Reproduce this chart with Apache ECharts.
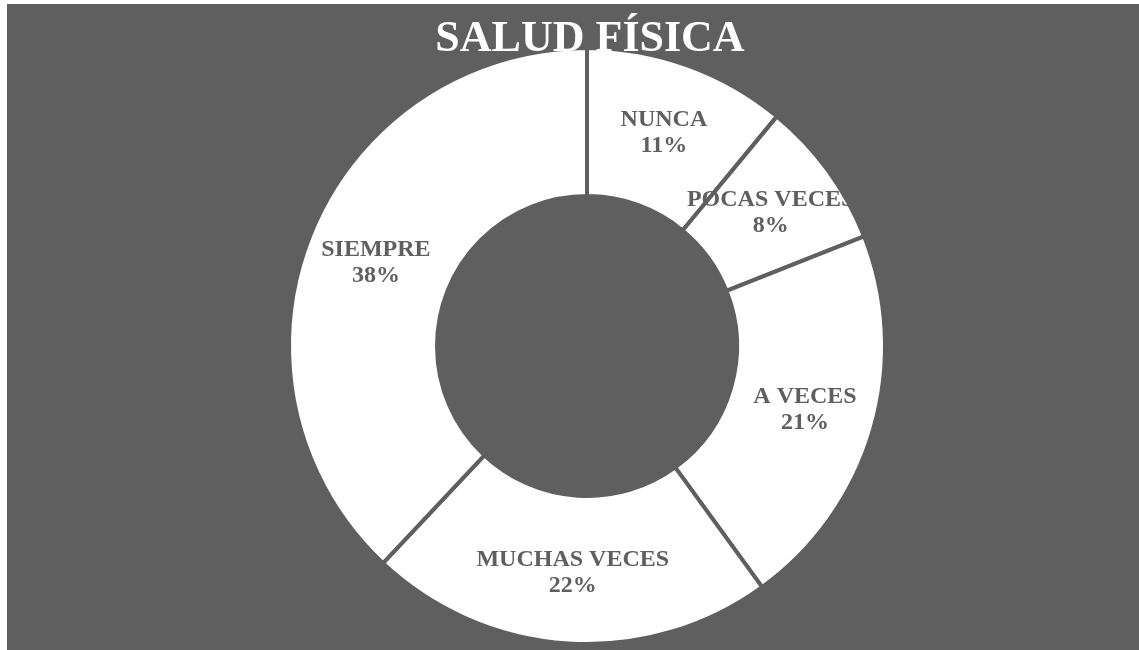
<!DOCTYPE html>
<html>
<head>
<meta charset="utf-8">
<script src="https://cdn.jsdelivr.net/npm/echarts@6/dist/echarts.min.js"></script>
<style>
  html, body { margin: 0; padding: 0; background: #ffffff; }
  #chart {
    position: absolute;
    left: 7px;
    top: 4px;
    width: 1132px;
    height: 646px;
  }
</style>
</head>
<body>
<div id="chart"></div>
<script>
// datos de la encuesta
var categories = ['NUNCA', 'POCAS VECES', 'A VECES', 'MUCHAS VECES', 'SIEMPRE']
var values = [11, 8, 21, 22, 38]

var gray = '#5f5f5f'
var pieData = []
for (var i = 0; i < categories.length; i++) {
  pieData.push({ name: categories[i], value: values[i] })
}

var myChart = echarts.init(document.getElementById('chart'))
myChart.setOption({
  backgroundColor: gray,
  title: {
    text: 'SALUD FÍSICA',
    left: 578,
    top: 9,
    textAlign: 'center',
    textStyle: {
      color: '#ffffff',
      fontFamily: 'Liberation Serif',
      fontWeight: 'bold',
      fontSize: 44
    }
  },
  series: [
    {
      type: 'pie',
      center: [580, 342],
      radius: [150, 298],
      startAngle: 90,
      clockwise: true,
      silent: true,
      data: pieData,
      itemStyle: {
        color: '#ffffff',
        borderColor: gray,
        borderWidth: 4
      },
      label: {
        show: true,
        position: 'inside',
        formatter: '{b}\n{d}%',
        color: gray,
        fontFamily: 'Liberation Serif',
        fontWeight: 'bold',
        fontSize: 24,
        lineHeight: 26
      },
      labelLine: { show: false }
    }
  ]
})
</script>
</body>
</html>
